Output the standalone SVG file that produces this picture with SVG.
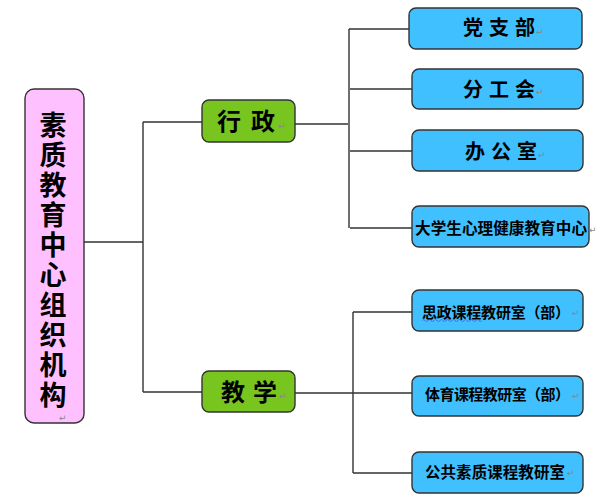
<svg xmlns="http://www.w3.org/2000/svg" width="600" height="503" viewBox="0 0 600 503">
<style>
.box{stroke:#333;stroke-width:1.4}
.pink{fill:#FFC0FF}
.green{fill:#79C520}
.blue{fill:#40C0FF}
.t{font-family:"Noto Sans CJK SC","Noto Sans",sans-serif;font-weight:bold;fill:#000}
.pm{font-family:"DejaVu Sans",sans-serif;font-size:9px;fill:#888}
.ln{stroke:#333;stroke-width:1.4;fill:none}
</style>
<rect width="600" height="503" fill="#fff"/>
<g id="connectors">
<path class="ln" d="M84 242H143M143 122V392M143 122H202M143 392H202"/>
<path class="ln" d="M295 124H348M349 29V228M349 29H409M350 89H412M350 151H412M350 228H412"/>
<path class="ln" d="M295 393H412M353 312V473M353 312H412M353 473H412"/>
</g>
<g id="root">
<rect class="box pink" x="25" y="89" width="59" height="334" rx="9"/>
<text class="t" font-size="27" x="53" y="111" writing-mode="vertical-rl" style="letter-spacing:3px">素质教育中心组织机构</text>
<text class="pm" x="59" y="421">↵</text>
</g>
<g id="admin">
<rect class="box green" x="202" y="100" width="93" height="42" rx="7"/>
<text class="t" font-size="24" x="217 240 251" y="130" xml:space="preserve">行 政</text>
<text class="pm" x="278" y="129">↵</text>
</g>
<g id="teach">
<rect class="box green" x="202" y="371" width="93" height="41" rx="7"/>
<text class="t" font-size="24" x="221 244 253" y="401" xml:space="preserve">教 学</text>
<text class="pm" x="279" y="399">↵</text>
</g>
<g id="n1">
<rect class="box blue" x="409" y="8" width="173" height="41" rx="7"/>
<text class="t" font-size="20" x="463 483 489 509 515" y="35" xml:space="preserve">党 支 部</text>
<text class="pm" x="536" y="35">↵</text>
</g>
<g id="n2">
<rect class="box blue" x="412" y="69" width="171" height="40" rx="7"/>
<text class="t" font-size="20" x="463 483 489 509 515" y="97" xml:space="preserve">分 工 会</text>
<text class="pm" x="536" y="95">↵</text>
</g>
<g id="n3">
<rect class="box blue" x="412" y="130" width="171" height="41" rx="7"/>
<text class="t" font-size="20" x="465 485 491 511 517" y="159" xml:space="preserve">办 公 室</text>
<text class="pm" x="538" y="158">↵</text>
</g>
<g id="n4">
<rect class="box blue" x="412" y="206" width="177" height="41" rx="7"/>
<text class="t" font-size="15.6" x="415" y="233.5" textLength="172">大学生心理健康教育中心</text>
<text class="pm" x="589" y="233">↵</text>
</g>
<g id="n5">
<rect class="box blue" x="412" y="290" width="171" height="41" rx="7"/>
<text class="t" font-size="15" x="422" y="317.5" textLength="148">思政课程教研室（部）</text>
<path d="M422 320.5q1.5-2 3 0t3 0t3 0t3 0t3 0t3 0t3 0t3 0t3 0t3 0t3 0t3 0t3 0t3 0t3 0t3 0t3 0t3 0t3 0t3 0" fill="none" stroke="#4060E0" stroke-width="0.8"/>
<text class="pm" x="572" y="316">↵</text>
</g>
<g id="n6">
<rect class="box blue" x="412" y="376" width="171" height="40" rx="7"/>
<text class="t" font-size="15" x="425" y="400" textLength="145">体育课程教研室（部）</text>
<text class="pm" x="572" y="399">↵</text>
</g>
<g id="n7">
<rect class="box blue" x="412" y="452" width="171" height="41" rx="7"/>
<text class="t" font-size="15.5" x="425" y="477.5" textLength="140">公共素质课程教研室</text>
<text class="pm" x="567" y="476">↵</text>
</g>
</svg>
